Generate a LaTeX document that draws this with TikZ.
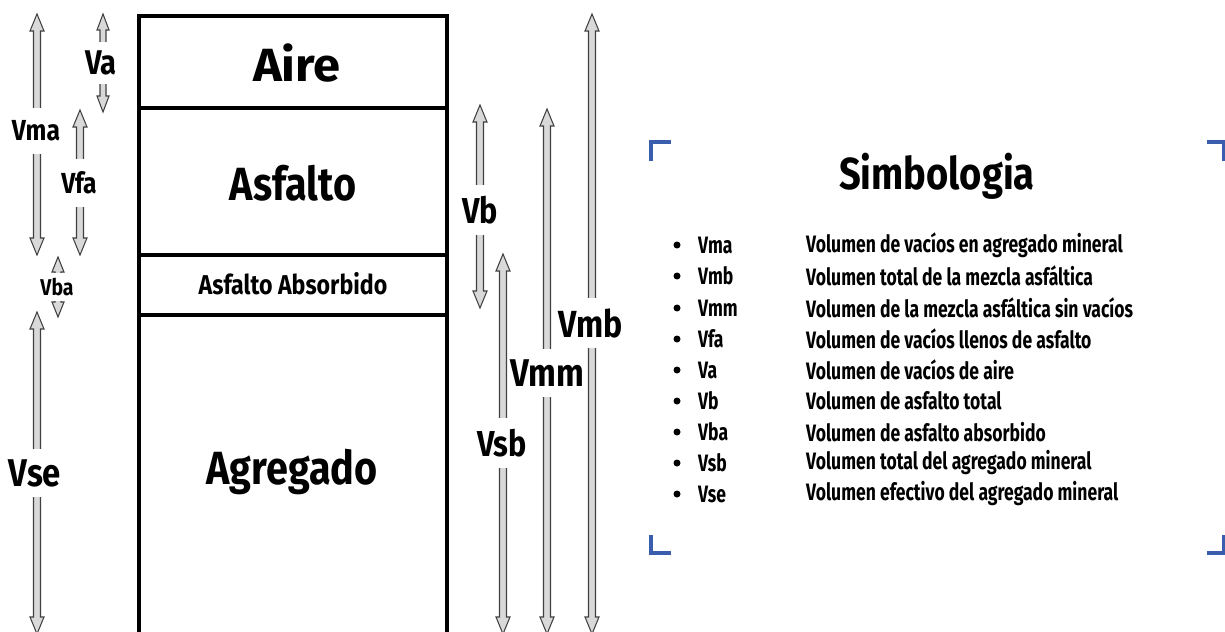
\documentclass[tikz,border=0pt]{standalone}
\usepackage{fontspec}
\setmainfont{Fira Sans}[FakeStretch=0.85]
\newfontfamily\legfont{Fira Sans}[FakeStretch=0.74]
\newfontfamily\widefont{Fira Sans}[FakeStretch=1.05]
\usepackage{tikz}
\usetikzlibrary{positioning, calc}
\definecolor{bracketblue}{HTML}{3A5DAE}
\definecolor{arrowgray}{HTML}{D9D9D9}

\tikzset{
  arrline/.style={draw=black!75, fill=arrowgray, line width=0.6pt, line join=miter},
  layerlbl/.style={font=\fontsize{26.5}{26.5}\selectfont\bfseries},
  dimlbl/.style={fill=white, inner xsep=1pt, inner ysep=5pt, font=\bfseries},
  legdot/.style={circle, fill=black, inner sep=0pt, minimum size=0.14cm},
  legsym/.style={anchor=west, font=\legfont\fontsize{13.5}{13.5}\selectfont\bfseries},
  legdesc/.style={anchor=west, font=\legfont\fontsize{13.5}{13.5}\selectfont\bfseries},
  corner/.style={bracketblue, line width=2.5pt, line cap=butt}
}

% block arrow with heads at both ends: x, y top, y bottom, head half width, head length
\newcommand{\dimarr}[5]{%
  \draw[arrline] (#1-#4/2,#2+#5) -- (#1-#4,#2+#5) -- (#1,#2) -- (#1+#4,#2+#5)
    -- (#1+#4/2,#2+#5) -- (#1+#4/2,#3-#5) -- (#1+#4,#3-#5) -- (#1,#3)
    -- (#1-#4,#3-#5) -- (#1-#4/2,#3-#5) -- cycle;}

\begin{document}
\begin{tikzpicture}[x=0.02cm, y=-0.02cm]
  \useasboundingbox (0,0) rectangle (1225,632);

  % Phase column
  \draw[line width=1.8pt] (139,645) -- (139,16) -- (447,16) -- (447,645);
  \draw[line width=1.8pt] (139,108) -- (447,108);
  \draw[line width=1.8pt] (139,255) -- (447,255);
  \draw[line width=1.8pt] (139,315) -- (447,315);

  \node[layerlbl, font=\widefont\fontsize{26.5}{26.5}\selectfont\bfseries] (aire) at (297,63) {Aire};
  \node[layerlbl] (asfalto) at (293,183) {Asfalto};
  \node[font=\fontsize{15.5}{15.5}\selectfont\bfseries] (absorbido) at (293,284) {Asfalto Absorbido};
  \node[layerlbl] (agregado) at (292,472) {Agregado};

  % Left dimension arrows
  \dimarr{37}{14}{255}{7}{17}
  \node[dimlbl, font=\fontsize{16.5}{16.5}\selectfont\bfseries, inner ysep=7pt] (vma) at (36,131) {Vma};
  \dimarr{103}{14}{112}{6}{16}
  \node[dimlbl, font=\fontsize{19.5}{19.5}\selectfont\bfseries, inner ysep=5pt] (va) at (101,63) {Va};
  \dimarr{80}{110}{255}{7}{17}
  \node[dimlbl, font=\fontsize{16.5}{16.5}\selectfont\bfseries, inner ysep=7pt] (vfa) at (79,183) {Vfa};
  \dimarr{58}{257}{317}{6}{15}
  \node[dimlbl, font=\fontsize{13}{13}\selectfont\bfseries, inner ysep=3pt] (vba) at (57,287) {Vba};
  \dimarr{37}{312}{634}{7}{17}
  \node[dimlbl, font=\fontsize{22}{22}\selectfont\bfseries, inner ysep=6pt] (vse) at (35,473) {Vse};

  % Right dimension arrows
  \dimarr{480}{105}{308}{7}{17}
  \node[dimlbl, font=\fontsize{20.5}{20.5}\selectfont\bfseries, inner ysep=6pt] (vb) at (480,210) {Vb};
  \dimarr{503}{254}{634}{7}{17}
  \node[dimlbl, font=\fontsize{20.5}{20.5}\selectfont\bfseries, inner ysep=6pt] (vsb) at (502,443) {Vsb};
  \dimarr{547}{109}{634}{7}{17}
  \node[dimlbl, font=\fontsize{22}{22}\selectfont\bfseries, inner ysep=6pt] (vmm) at (547,373) {Vmm};
  \dimarr{592}{14}{634}{7}{17}
  \node[dimlbl, font=\fontsize{21.5}{21.5}\selectfont\bfseries, inner ysep=6pt] (vmb) at (591,323) {Vmb};

  % Legend frame corners
  \draw[corner] (671,142) -- (651,142) -- (651,161);
  \draw[corner] (1207,142) -- (1224,142) -- (1224,161);
  \draw[corner] (651,535) -- (651,553) -- (671,553);
  \draw[corner] (1224,535) -- (1224,553) -- (1207,553);

  % Legend
  \node[font=\fontsize{25.5}{25.5}\selectfont\bfseries] (simb) at (937,176) {Simbologia};

  \node[legdot] (b1) at (677,245) {};
  \node[legsym] (s1) at (692,245) {Vma};
  \node[legdesc] (d1) at (800,245) {Volumen de vacíos en agregado mineral};
  \node[legdot] (b2) at (677,276) {};
  \node[legsym] (s2) at (692,276) {Vmb};
  \node[legdesc] (d2) at (800,276) {Volumen total de la mezcla asfáltica};
  \node[legdot] (b3) at (677,308) {};
  \node[legsym] (s3) at (692,308) {Vmm};
  \node[legdesc] (d3) at (800,308) {Volumen de la mezcla asfáltica sin vacíos};
  \node[legdot] (b4) at (677,339) {};
  \node[legsym] (s4) at (692,339) {Vfa};
  \node[legdesc] (d4) at (800,339) {Volumen de vacíos llenos de asfalto};
  \node[legdot] (b5) at (677,370) {};
  \node[legsym] (s5) at (692,370) {Va};
  \node[legdesc] (d5) at (800,370) {Volumen de vacíos de aire};
  \node[legdot] (b6) at (677,401) {};
  \node[legsym] (s6) at (692,401) {Vb};
  \node[legdesc] (d6) at (800,401) {Volumen de asfalto total};
  \node[legdot] (b7) at (677,432) {};
  \node[legsym] (s7) at (692,432) {Vba};
  \node[legdesc] (d7) at (800,432) {Volumen de asfalto absorbido};
  \node[legdot] (b8) at (677,463) {};
  \node[legsym] (s8) at (692,463) {Vsb};
  \node[legdesc] (d8) at (800,463) {Volumen total del agregado mineral};
  \node[legdot] (b9) at (677,494) {};
  \node[legsym] (s9) at (692,494) {Vse};
  \node[legdesc] (d9) at (800,494) {Volumen efectivo del agregado mineral};
\end{tikzpicture}
\end{document}
